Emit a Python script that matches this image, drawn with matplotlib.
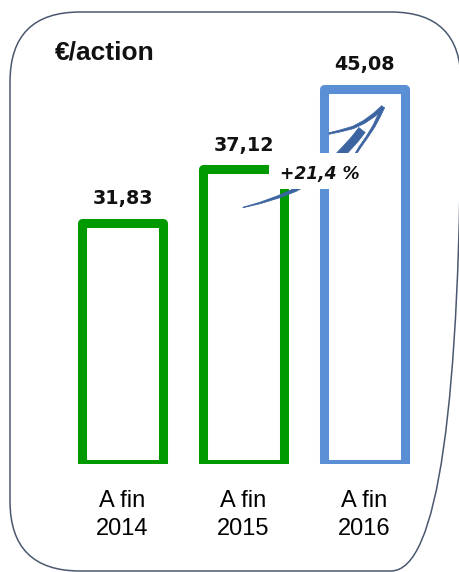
import numpy as np
import matplotlib
matplotlib.use("Agg")
import matplotlib.pyplot as plt
from matplotlib.patches import Polygon, Rectangle, FancyBboxPatch
from matplotlib.transforms import Affine2D

# ---- data ----
categories = ["A fin\n2014", "A fin\n2015", "A fin\n2016"]
values = [31.83, 37.12, 45.08]
bar_colors = ["#009a00", "#009a00", "#5a8ed5"]
unit_label = "€/action"
growth_label = "+21,4 %"

W, H = 459, 572
fig = plt.figure(figsize=(W / 100, H / 100), dpi=100)
fig.patch.set_facecolor("white")
px = Affine2D().scale(1 / W, -1 / H).translate(0, 1) + fig.transFigure

ax = fig.add_axes([62 / W, (H - 463.5) / H, 363 / W, 424.2 / H])
ax.set_xlim(-0.5, 2.5)
ax.set_ylim(8.0, 50.0)
for s in ax.spines.values():
    s.set_visible(False)
ax.set_yticks([])
x = np.arange(len(categories))
ax.set_xticks(x)
ax.set_xticklabels(categories, fontsize=17, family="Liberation Sans",
                   linespacing=1.38)
ax.tick_params(axis="x", length=0, pad=19)

bars = ax.bar(x, [v - 8.0 for v in values], bottom=8.0, width=0.67,
              fill=False, edgecolor=bar_colors, linewidth=6.5, zorder=2)
for b in bars:
    b.set_joinstyle("round")

for xi, v in zip(x, values):
    ax.annotate(f"{v:.2f}".replace(".", ","), xy=(xi, v), xytext=(0, 13.5),
                textcoords="offset points", ha="center", va="baseline",
                fontsize=13.8, fontweight="bold", family="DejaVu Sans",
                color="#111111", zorder=6)


def band(pts, widths):
    p = np.asarray(pts, float)
    w = np.asarray(widths, float)
    d = np.gradient(p, axis=0)
    d /= np.linalg.norm(d, axis=1)[:, None]
    n = np.column_stack([-d[:, 1], d[:, 0]])
    left = p + n * w[:, None] / 2
    right = p - n * w[:, None] / 2
    return np.vstack([left, right[::-1]])


swoosh = "#3b64a0"
shapes = [
    band([(243, 207.5), (260, 203), (278, 197), (295, 190), (315, 178),
          (332, 163), (345, 150), (355, 139), (362, 130)],
         [0.5, 1.5, 2.5, 3.5, 5, 7, 8, 8, 8]),
    band([(329, 133.5), (340, 131), (353, 127.5), (364, 122), (374, 115),
          (383, 107)], [1.5, 2, 2.5, 3, 3.5, 3.5]),
    band([(383, 107), (379, 116), (374, 126), (367, 137), (360, 147),
          (355, 155)], [3.5, 3, 2.5, 2, 2, 1.5]),
]
for s in shapes:
    ax.add_patch(Polygon(s, closed=True, transform=px, facecolor=swoosh,
                         edgecolor=swoosh, linewidth=0.5, joinstyle="round",
                         clip_on=False, zorder=3))

ax.add_patch(Rectangle((269, 153), 103, 36, transform=px, facecolor="white",
                       edgecolor="none", clip_on=False, zorder=4))
ax.text(320, 179, growth_label, transform=px, ha="center", va="baseline",
        fontsize=12.3, fontweight="bold", style="italic", family="DejaVu Sans",
        color="#111111", zorder=5)

fig.text(55 / W, 1 - 60 / H, unit_label, ha="left", va="baseline",
         fontsize=19, fontweight="bold", family="Liberation Sans",
         color="#111111")

border = FancyBboxPatch((10 + 70, 12 + 70), 451 - 140, 559 - 140,
                        boxstyle="round,pad=70", transform=px,
                        facecolor="none", edgecolor="#4a5870", linewidth=1.1)
fig.patches.append(border)

fig.savefig("out.png", dpi=100)
